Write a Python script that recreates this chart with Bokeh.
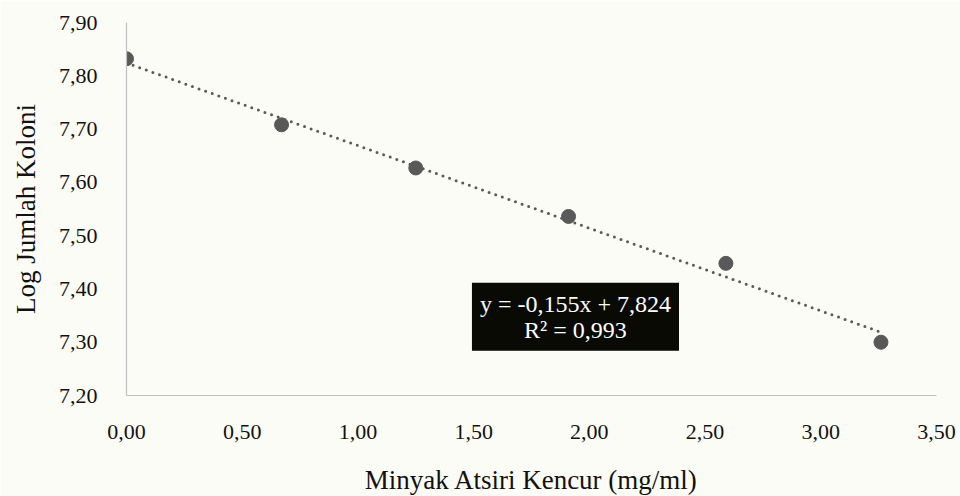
import numpy as np
from bokeh.plotting import figure
from bokeh.models import Range1d, FixedTicker, CustomJSTickFormatter, Label, ColumnDataSource
from bokeh.embed import file_html
from bokeh.resources import INLINE

# ---- data ----
conc = [0.00, 0.67, 1.25, 1.91, 2.59, 3.26]
log_koloni = [7.832, 7.708, 7.627, 7.536, 7.448, 7.300]
x_ticks = [0.0, 0.5, 1.0, 1.5, 2.0, 2.5, 3.0, 3.5]
y_ticks = [7.2, 7.3, 7.4, 7.5, 7.6, 7.7, 7.8, 7.9]
slope = -0.155
intercept = 7.824
r_squared = 0.993
x_title = "Minyak Atsiri Kencur (mg/ml)"
y_title = "Log Jumlah Koloni"

FONT = "'Liberation Serif', 'Times New Roman', serif"
BG = "#fcfcf6"
MARK = "#595959"

p = figure(frame_width=810, frame_height=373,
           min_border_left=126, min_border_right=24, min_border_top=22, min_border_bottom=100,
           x_range=Range1d(x_ticks[0], x_ticks[-1]), y_range=Range1d(y_ticks[0], y_ticks[-1]),
           output_backend="svg", toolbar_location=None,
           background_fill_color=BG, border_fill_color=BG)
p.outline_line_color = None
p.xgrid.visible = False
p.ygrid.visible = False

fmt = CustomJSTickFormatter(code="return tick.toFixed(2).replace('.', ',');")
for ax, ticks in ((p.xaxis[0], x_ticks), (p.yaxis[0], y_ticks)):
    ax.ticker = FixedTicker(ticks=ticks)
    ax.formatter = fmt
    ax.axis_line_color = "#bfbfbf"
    ax.axis_line_width = 1.2
    ax.major_tick_line_color = None
    ax.minor_tick_line_color = None
    ax.major_label_text_font = FONT
    ax.major_label_text_font_size = "22px"
    ax.major_label_text_color = "#111111"
    ax.axis_label_text_font = FONT
    ax.axis_label_text_font_size = "27px"
    ax.axis_label_text_font_style = "normal"
    ax.axis_label_text_color = "#111111"

p.xaxis[0].axis_label = x_title
p.yaxis[0].axis_label = y_title
p.xaxis[0].major_label_standoff = 23
p.yaxis[0].major_label_standoff = 23
p.xaxis[0].axis_label_standoff = 23
p.yaxis[0].axis_label_standoff = 15

# trend line
tx = np.array([min(conc), max(conc)])
ty = slope * tx + intercept
p.line(tx, ty, line_color=MARK, line_width=3, line_dash="0 7", line_cap="round")

src = ColumnDataSource(dict(x=conc, y=log_koloni))
p.scatter("x", "y", source=src, size=14, fill_color=MARK, line_color=MARK)

eq = f"y = {slope:.3f}x + {intercept:.3f}".replace(".", ",")
r2 = f"R² = {r_squared:.3f}".replace(".", ",")
lab = Label(x=1.94, y=7.348, text=eq + "\n" + r2, text_align="center", text_baseline="middle",
            text_font=FONT, text_font_size="24px", text_color="white", text_line_height=1.0,
            background_fill_color="#0a0a05", padding=8)
p.add_layout(lab)

open("out.html", "w").write(file_html(p, INLINE))
